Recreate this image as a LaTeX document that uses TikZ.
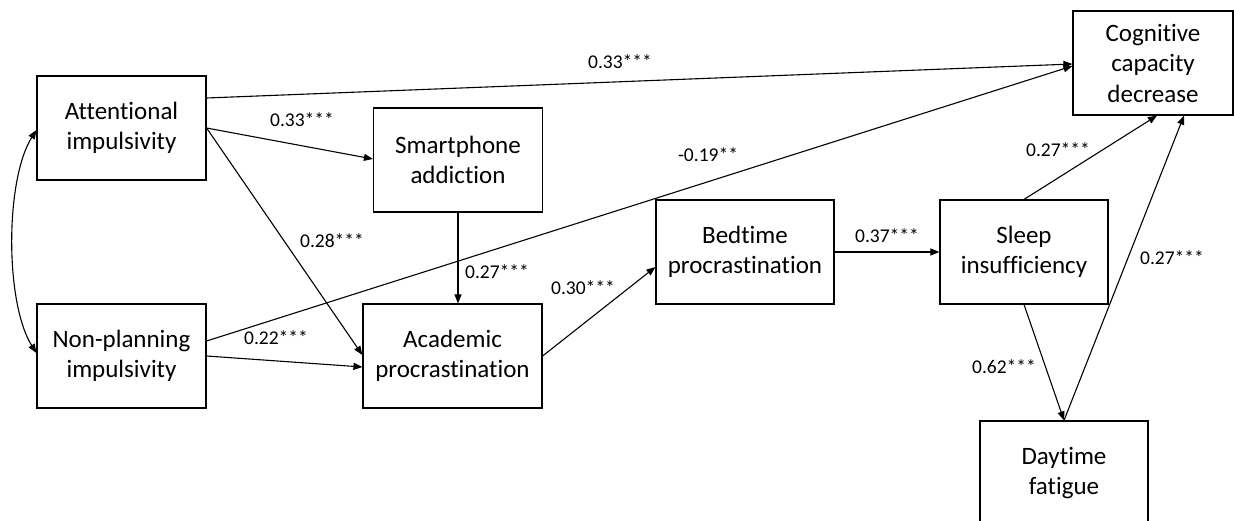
\documentclass[tikz,border=0pt]{standalone}
\usepackage{fontspec}
\setmainfont{Carlito}[Ligatures=NoCommon]
\usetikzlibrary{arrows.meta}
\begin{document}
\begin{tikzpicture}[x=1pt,y=1pt,
  box/.style={draw, line width=1.2pt, align=center, inner sep=0pt,
    minimum height=104pt, font=\fontsize{25}{30.5}\selectfont},
  lab/.style={font=\fontsize{19.5}{23}\selectfont, inner sep=0pt},
  arr/.style={line width=1.1pt, -{Triangle[length=9pt,width=7pt]}},
  darr/.style={line width=1.1pt, {Triangle[length=9pt,width=7pt]}-{Triangle[length=9pt,width=7pt]}}]
\useasboundingbox (0,0) rectangle (1234,-521);
\node[box, minimum width=169pt] (A) at (121.5,-128) {Attentional\\impulsivity};
\node[box, minimum width=169pt] (N) at (121.5,-356) {Non-planning\\impulsivity};
\node[box, minimum width=169pt] (S) at (458,-160) {Smartphone\\addiction};
\node[box, minimum width=179pt] (P) at (452.5,-356) {Academic\\procrastination};
\node[box, minimum width=178pt] (B) at (745,-252) {Bedtime\\procrastination};
\node[box, minimum width=168pt] (Z) at (1024,-252) {Sleep\\insufficiency};
\node[box, minimum width=168pt] (D) at (1064,-473) {Daytime\\fatigue};
\node[box, minimum width=160pt] (C) at (1153,-63) {Cognitive\\capacity\\decrease};

\draw[arr] (A.east |- 0,-98) -- (C.west |- 0,-64);
\draw[arr] (A.east) -- (S.west |- 0,-159);
\draw[arr] (A.east) -- (P.west |- 0,-355);
\draw[arr] (S.south) -- (P.north -| S.south);
\draw[arr] (N.east) -- (P.west |- 0,-367);
\draw[arr] (N.east |- 0,-341) -- (C.west |- 0,-66);
\draw[arr] (P.east) -- (B.west |- 0,-267);
\draw[arr] (B.east) -- (Z.west);
\draw[arr] (Z.north) -- (C.south -| 1157,0);
\draw[arr] (D.north) -- (C.south -| 1184,0);
\draw[arr] (Z.south) -- (D.north);
\draw[darr] (A.west |- 0,-130) .. controls (5,-180) and (5,-303) .. (N.west |- 0,-353);

\node[lab] (l1) at (620,-62) {0.33***};
\node[lab] (l2) at (302,-120) {0.33***};
\node[lab] (l3) at (332,-241) {0.28***};
\node[lab] (l4) at (497,-272) {0.27***};
\node[lab] (l5) at (276,-338) {0.22***};
\node[lab] (l6) at (708,-155) {-0.19**};
\node[lab] (l7) at (583,-288) {0.30***};
\node[lab] (l8) at (887,-236) {0.37***};
\node[lab] (l9) at (1058,-150) {0.27***};
\node[lab] (l10) at (1172,-258) {0.27***};
\node[lab] (l11) at (1004,-367) {0.62***};
\end{tikzpicture}
\end{document}
